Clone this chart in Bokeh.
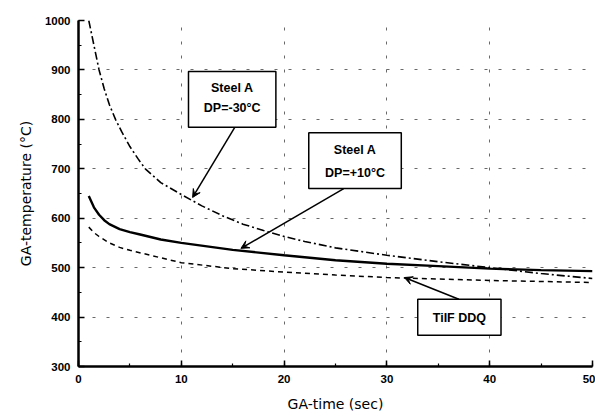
from bokeh.plotting import figure
from bokeh.models import Range1d, SingleIntervalTicker, Arrow, VeeHead
from bokeh.core.properties import value
from bokeh.embed import file_html
from bokeh.resources import INLINE

# Steel A, DP=-30°C (dash-dot)
t_a30 = [1, 1.5, 2, 2.5, 3, 3.6, 4.2, 5, 5.8, 6.5, 8, 10, 12, 14, 16, 18, 20, 22, 25, 30, 35, 40, 45, 50]
T_a30 = [1000, 950, 900, 862, 830, 800, 775, 745, 720, 700, 672, 648, 625, 605, 588, 575, 563, 553, 540, 525, 512, 500, 488, 478]

# Steel A, DP=+10°C (solid)
t_a10 = [1, 1.5, 2, 2.5, 3, 4, 5, 6, 8, 10, 15, 20, 25, 30, 35, 40, 45, 50]
T_a10 = [645, 622, 607, 596, 588, 578, 572, 567, 557, 550, 536, 525, 515, 508, 503, 498, 495, 493]

# TiIF DDQ (dashed)
t_ti = [1, 1.5, 2, 3, 4, 5, 7, 10, 15, 20, 25, 30, 35, 40, 45, 50]
T_ti = [582, 571, 563, 550, 541, 535, 525, 510, 498, 491, 485, 480, 477, 474, 472, 470]

FONT = "Liberation Sans"
LABEL_FONT = "DejaVu Sans"

p = figure(width=595, height=417, output_backend="svg", toolbar_location=None,
           x_range=Range1d(0, 50), y_range=Range1d(300, 1000),
           min_border_left=78, min_border_right=3, min_border_top=20, min_border_bottom=51)
p.outline_line_color = None
p.background_fill_color = "white"

p.xaxis.ticker = SingleIntervalTicker(interval=10, num_minor_ticks=2)
p.yaxis.ticker = SingleIntervalTicker(interval=100, num_minor_ticks=2)
for ax in (p.xaxis, p.yaxis):
    ax.axis_line_width = 2.5
    ax.axis_line_color = "black"
    ax.major_tick_in = 6
    ax.major_tick_out = 0
    ax.minor_tick_in = 3
    ax.minor_tick_out = 0
    ax.major_tick_line_width = 1.5
    ax.minor_tick_line_width = 1.2
    ax.major_label_text_font = FONT
    ax.major_label_text_font_style = "bold"
    ax.major_label_text_font_size = "11.5px"
    ax.major_label_text_color = "black"
    ax.axis_label_text_font = LABEL_FONT
    ax.axis_label_text_font_style = "normal"
    ax.axis_label_text_font_size = "14px"
    ax.axis_label_text_color = "black"
p.xaxis.axis_label = "GA-time (sec)"
p.yaxis.axis_label = "GA-temperature (°C)"
p.xaxis.major_label_standoff = 8
p.yaxis.major_label_standoff = 8
p.xaxis.axis_label_standoff = 10
p.yaxis.axis_label_standoff = 8

for g in (p.xgrid, p.ygrid):
    g.grid_line_color = "#444444"
    g.grid_line_dash = "3 11"
    g.grid_line_width = 1
    g.grid_line_alpha = 0.8

p.line(t_a30, T_a30, line_color="black", line_width=1.6, line_dash="8 3 2 3")
p.line(t_a10, T_a10, line_color="black", line_width=2.4)
p.line(t_ti, T_ti, line_color="black", line_width=1.5, line_dash="5 4")

# annotation boxes
p.quad(left=[10.7, 22.4, 33.0], right=[19.2, 31.4, 41.1],
       top=[897, 773, 436], bottom=[784, 660, 363],
       fill_color="white", line_color="black", line_width=1.5)

p.text(x=[14.95, 14.95, 26.9, 26.9, 37.05],
       y=[863, 822, 737, 692, 399],
       text=["Steel A", "DP=-30°C", "Steel A", "DP=+10°C", "TiIF DDQ"],
       text_font=value(FONT), text_font_style="bold", text_font_size="12.5px",
       text_align="center", text_baseline="middle", text_color="black")

for (x0, y0, x1, y1) in [(15.2, 784, 11.1, 642), (25.8, 660, 15.8, 539), (37.0, 436, 31.7, 480)]:
    p.add_layout(Arrow(end=VeeHead(size=8, fill_color="black", line_color="black"),
                       x_start=x0, y_start=y0, x_end=x1, y_end=y1,
                       line_color="black", line_width=1.5))

open("out.html", "w").write(file_html(p, INLINE))
